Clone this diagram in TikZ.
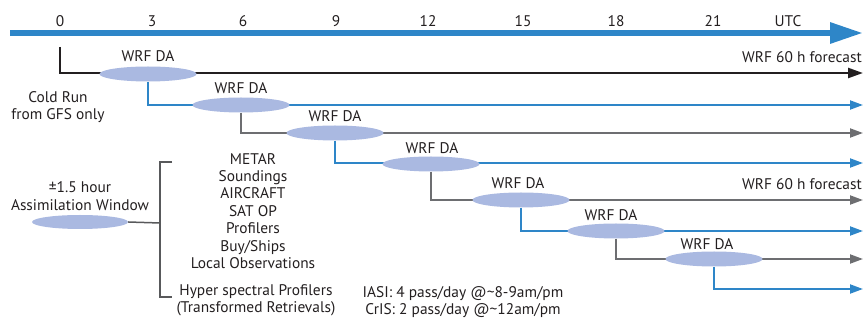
\documentclass[tikz,border=0pt]{standalone}
\usepackage{fontspec}
\setmainfont{PT Sans}
\usetikzlibrary{arrows.meta}
\pgfdeclarelayer{bg}
\pgfsetlayers{bg,main}
\definecolor{axblue}{RGB}{46,134,200}
\definecolor{dagray}{RGB}{109,110,113}
\definecolor{dablack}{RGB}{35,31,32}
\definecolor{dafill}{RGB}{170,185,225}
\definecolor{brgray}{RGB}{88,89,91}
\tikzset{
  txt/.style={font=\fontsize{15.4}{17.4}\selectfont, text=dablack, inner sep=0pt, align=center},
  da/.style={ellipse, fill=dafill, minimum width=97pt, minimum height=15pt, inner sep=0pt},
  axisline/.style={draw=axblue, line width=6pt, -{Triangle[length=33pt,width=20pt]}},
  blkline/.style={draw=dablack, line width=2.4pt, -{Triangle[length=15pt,width=10pt]}},
  bluline/.style={draw=axblue, line width=2pt, -{Triangle[length=13pt,width=9pt]}},
  gryline/.style={draw=dagray, line width=2pt, -{Triangle[length=13pt,width=9pt]}},
  brack/.style={draw=brgray, line width=1.5pt},
}
\usetikzlibrary{shapes.geometric}
\begin{document}
\begin{tikzpicture}[x=1pt,y=-1pt]
\useasboundingbox (0,0) rectangle (863,320);
% axis
\coordinate (axs) at (10,33);
\coordinate (axe) at (863,33);
\draw[axisline] (axs) -- (axe);
\node[txt] (t0) at (60,21) {0};
\node[txt] (t3) at (152,21) {3};
\node[txt] (t6) at (243,21) {6};
\node[txt] (t9) at (336,21) {9};
\node[txt] (t12) at (428,21) {12};
\node[txt] (t15) at (523,21) {15};
\node[txt] (t18) at (616,21) {18};
\node[txt] (t21) at (713,21) {21};
\node[txt] (utc) at (788,21) {UTC};
% DA ellipses
\node[da] (e1) at (148,74) {};
\node[da] (e2) at (241,105) {};
\node[da] (e3) at (335,133) {};
\node[da] (e4) at (431,164) {};
\node[da] (e5) at (521,200) {};
\node[da] (e6) at (616,231) {};
\node[da] (e7) at (714,259) {};
\node[txt] (l1) at (148,56) {WRF DA};
\node[txt] (l2) at (241,88) {WRF DA};
\node[txt] (l3) at (335,116) {WRF DA};
\node[txt] (l4) at (432,148) {WRF DA};
\node[txt] (l5) at (518,183) {WRF DA};
\node[txt] (l6) at (611,215) {WRF DA};
\node[txt] (l7) at (707,244) {WRF DA};
% end points
\coordinate (c0) at (60,47);
\coordinate (r0) at (863,73);
\coordinate (r1) at (863,105);
\coordinate (r2) at (863,133);
\coordinate (r3) at (863,163);
\coordinate (r4) at (863,200);
\coordinate (r5) at (863,231);
\coordinate (r6) at (863,259);
\coordinate (r7) at (863,289);
\begin{pgfonlayer}{bg}
\draw[blkline] (c0) |- (r0);
\draw[bluline] (e1.south) |- (r1);
\draw[gryline] (e2.south) |- (r2);
\draw[bluline] (e3.south) |- (r3);
\draw[gryline] (e4.south) |- (r4);
\draw[bluline] (e5.south) |- (r5);
\draw[gryline] (e6.south) |- (r6);
\draw[bluline] (e7.south) |- (r7);
\end{pgfonlayer}
\node[txt, anchor=east] (f1) at (862,57) {WRF 60 h forecast};
\node[txt, anchor=east] (f2) at (862,184) {WRF 60 h forecast};
% left texts
\node[txt] (cold) at (58,107) {Cold Run\\from GFS only};
\node[txt] (win) at (80,196) {±1.5 hour\\Assimilation Window};
\node[da, minimum width=96pt, minimum height=14pt] (leg) at (80,222) {};
% bracket
\coordinate (bt) at (172,162);
\coordinate (bb) at (172,297);
\coordinate (bm) at (160,223);
\draw[brack] (bt) -| (bm) |- (bb);
\draw[brack] (leg.east) -- (bm);
\node[txt] (obs) at (253,211) {METAR\\Soundings\\AIRCRAFT\\SAT OP\\Profilers\\Buy/Ships\\Local Observations};
\node[txt] (hyp) at (256,300.5) {Hyper spectral Profilers\\(Transformed Retrievals)};
\node[txt] (iasi) at (463,302) {IASI: 4 pass/day @\textasciitilde8-9am/pm\\CrIS: 2 pass/day @\textasciitilde12am/pm};
\end{tikzpicture}
\end{document}
